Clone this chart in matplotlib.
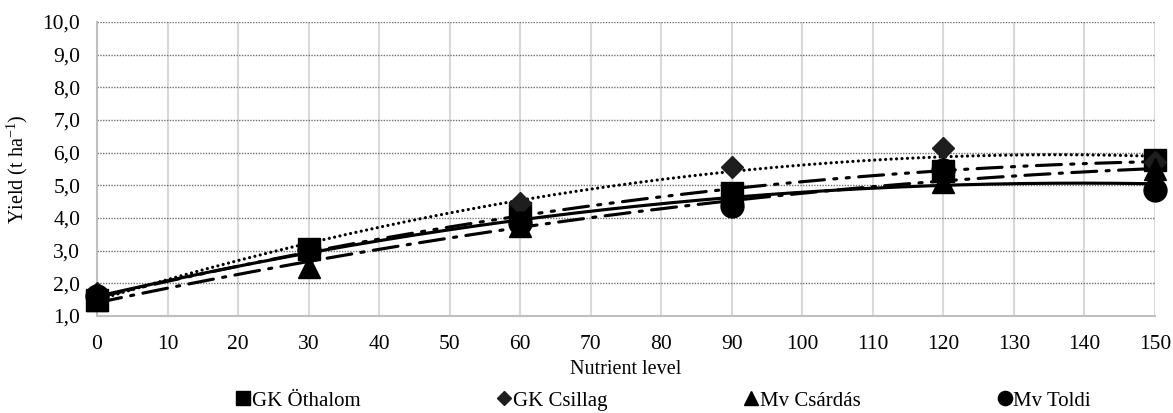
import numpy as np
import matplotlib
matplotlib.use("Agg")
import matplotlib.pyplot as plt

plt.rcParams['font.family'] = ['Liberation Serif', 'DejaVu Serif']
plt.rcParams['mathtext.fontset'] = 'custom'
plt.rcParams['mathtext.rm'] = 'Liberation Serif'

# nutrient levels and yields (t/ha) per variety
nutrient = [0, 30, 60, 90, 120, 150]
othalom = [1.50, 3.05, 4.15, 4.76, 5.43, 5.77]
csillag = [1.70, 2.90, 4.45, 5.56, 6.14, 5.70]
csardas = [1.49, 2.50, 3.74, 4.64, 5.10, 5.50]
toldi = [1.61, 3.01, 3.84, 4.36, 5.48, 4.85]

labels = ['GK Öthalom', 'GK Csillag', 'Mv Csárdás', 'Mv Toldi']
xticks = list(range(0, 151, 10))
yticks = [1, 2, 3, 4, 5, 6, 7, 8, 9, 10]

series = [othalom, csillag, csardas, toldi]
markers = ['s', 'D', '^', 'o']
msizes = [15.5, 11.5, 15.5, 16.5]
mcolors = ['black', '#1e1e1e', 'black', 'black']
# excel-like trendline styles
lstyles = [(0, (8, 3, 1, 3, 1, 3)), (0, (0.01, 1.7)), (0, (8, 3, 1, 3)), '-']
lwidths = [2.25, 2.3, 2.25, 2.25]

fig = plt.figure(figsize=(11.73, 4.13), dpi=100)
ax = fig.add_axes([97/1173, 1-316/413, (1155-97)/1173, (316-22)/413])

xs = np.linspace(0, 150, 300)
for ys, ls, lw in zip(series, lstyles, lwidths):
    coef = np.polyfit(nutrient, ys, 2)
    ax.plot(xs, np.polyval(coef, xs), color='black', linestyle=ls, lw=lw,
            dash_capstyle='round', zorder=3)

for ys, m, ms, c, lab in zip(series, markers, msizes, mcolors, labels):
    ax.plot(nutrient, ys, linestyle='none', marker=m, ms=ms, color=c,
            label=lab, zorder=4, clip_on=False)

ax.set_xlim(0, 150)
ax.set_ylim(1, 10)
ax.set_xticks(xticks)
ax.set_yticks(yticks)
ax.set_yticklabels([f"{v:.1f}".replace('.', ',') for v in yticks])
ax.tick_params(length=0, labelsize=15.5)
ax.tick_params(axis='x', pad=14)
ax.tick_params(axis='y', pad=12)

ax.grid(axis='x', color='#d9d9d9', lw=1.5, zorder=0)
ax.grid(axis='y', color='#6f6f6f', lw=1.0, linestyle=(0, (1, 1)), zorder=0)
ax.set_axisbelow(True)
for s in ['top', 'right']:
    ax.spines[s].set_visible(False)
ax.spines['left'].set_color('#bfbfbf')
ax.spines['bottom'].set_color('#bfbfbf')
ax.spines['left'].set_linewidth(1.5)
ax.spines['bottom'].set_linewidth(1.5)

ax.set_xlabel('Nutrient level', fontsize=14.5, labelpad=4)
ax.set_ylabel(r'Yield (t ha$^{\mathrm{-1}}$)', fontsize=14.5, labelpad=9)

fig.legend(loc='lower center', bbox_to_anchor=(0.566, -0.04), ncol=4,
           frameon=False, fontsize=15, markerscale=0.62, handlelength=0.6,
           handletextpad=0.12, columnspacing=6.6)

fig.savefig('out.png', dpi=100)
